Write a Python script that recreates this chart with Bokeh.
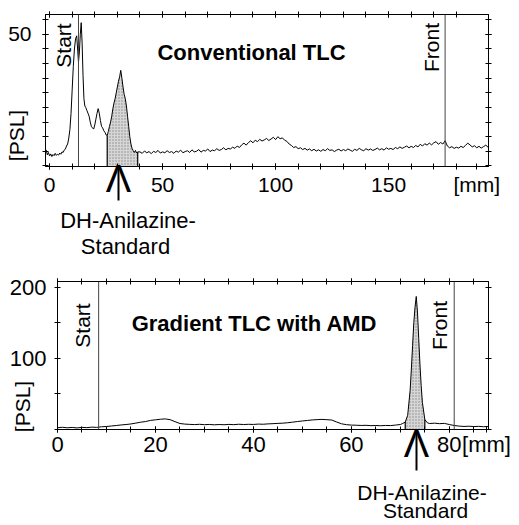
import json
import math
from bokeh.plotting import figure
from bokeh.models import (Range1d, FixedTicker, LinearAxis, Span, Label,
                          CustomJSTickFormatter)
from bokeh.layouts import column
from bokeh.embed import file_html
from bokeh.resources import INLINE

FONT = "Liberation Sans"

# ---------------- data: conventional TLC (top) ----------------
conv_mm_peaks = [-1.5, -1.0, -0.5, 0.0, 0.5, 1.0, 1.5, 2.0, 2.5, 3.0,
                 3.5, 4.0, 4.5, 5.0, 5.5, 6.0, 6.5, 7.0, 7.5, 8.0,
                 8.5, 9.0, 9.5, 10.0, 10.5, 11.0, 11.5, 12.0, 12.5, 12.8,
                 13.2, 13.6, 14.0, 14.4, 14.8, 15.2, 15.6, 16.0, 16.5, 17.0,
                 17.5, 18.0, 18.5, 19.0, 19.5, 20.0, 20.5, 21.0, 21.5, 22.0,
                 22.5, 23.0, 23.5, 24.0, 24.5, 25.0, 25.5, 26.0, 26.5, 27.0,
                 27.5, 28.0, 28.5, 29.0, 29.5, 30.0, 30.5, 31.0, 31.5, 32.0,
                 32.5, 33.0, 33.5, 34.0, 34.5, 35.0, 35.5, 36.0, 36.5, 37.0,
                 37.5, 38.0, 38.5, 39.0]
conv_psl_peaks = [10.5, 8.8, 9.6, 8.4, 9.1, 8.2, 8.9, 8.5, 9.3, 8.6,
                  9.0, 8.7, 9.4, 9.0, 9.8, 9.6, 10.4, 10.8, 11.8, 12.5,
                  14.5, 17.5, 23.0, 31.0, 39.0, 45.0, 48.5, 49.5, 44.0, 40.5,
                  44.0, 50.0, 54.0, 47.0, 36.0, 28.0, 25.5, 25.0, 24.0, 23.0,
                  22.0, 20.0, 18.5, 18.0, 17.6, 19.0, 21.0, 23.0, 24.6, 23.0,
                  20.5, 18.5, 18.0, 17.0, 16.5, 15.6, 15.4, 16.8, 18.5, 20.0,
                  22.0, 24.5, 26.5, 28.0, 30.0, 32.0, 34.0, 35.5, 37.7, 35.0,
                  32.0, 29.5, 28.0, 25.5, 22.0, 18.5, 15.0, 12.5, 11.0, 10.2,
                  9.6, 10.3, 9.4, 9.8]
conv_mm_rest = list(range(40, 195))
conv_psl_rest = [
    9.8, 9.3, 10.1, 9.5, 9.9, 9.2, 10.0, 9.6, 10.3, 9.4, 9.8, 9.5, 10.2, 9.6, 9.9,
    9.3, 10.1, 9.7, 10.4, 9.5, 9.9,
    10.2, 9.6, 10.5, 9.8, 10.0, 10.6, 9.7, 10.3, 10.1, 10.8, 9.9, 10.4, 10.2, 10.9,
    10.3, 10.6, 11.2, 10.5, 11.0, 10.8,
    11.4, 11.0, 11.8, 11.3, 12.2, 12.8, 12.1, 13.0, 13.6, 12.9, 13.8, 13.3, 14.1, 13.5,
    13.9, 14.4, 13.7, 14.2, 14.8, 14.0, 15.0, 14.3, 14.6, 13.8, 13.4, 12.5, 12.0, 11.3,
    11.6, 10.9,
    11.2, 10.6, 11.0, 10.4, 10.8, 10.2, 10.7, 10.1, 10.5, 10.0, 10.6, 10.2, 10.9, 10.3,
    10.5, 9.9, 10.4, 10.7, 10.1, 10.6, 10.2, 10.8, 10.4, 10.0, 10.7, 10.3, 11.0, 10.5,
    10.2, 10.9, 10.4, 10.8, 10.3, 10.6, 11.1, 10.5, 10.9, 10.4, 11.2, 10.7,
    11.0, 10.6, 11.3, 10.9, 11.5, 11.0, 11.4, 11.8, 11.2, 11.7, 11.3, 12.0, 11.5, 12.4,
    11.8, 12.6, 12.1, 12.8, 12.2, 12.9, 13.3, 12.4, 13.0, 12.5, 13.6,
    11.8, 11.2, 11.6, 11.0, 11.4, 11.1, 11.7, 11.3, 12.0, 12.8, 12.2, 11.5, 11.9, 11.2,
    11.7, 11.1, 11.6, 12.1, 11.4]
conv_mm = conv_mm_peaks + conv_mm_rest
conv_psl = conv_psl_peaks + conv_psl_rest
conv_start_mm = 12.8
conv_front_mm = 175.0
conv_std_mm = 30.5
conv_std_band = (25.5, 39.0)
conv_xticks = [0, 50, 100, 150]
conv_xunit_at = 189
conv_xminor = list(range(0, 190, 10))
conv_yticks = [50]
conv_yminor = list(range(5, 60, 5))

# ---------------- data: gradient TLC with AMD (bottom) ----------------
grad_mm = (list(range(0, 71))
           + [70.5, 71.0, 71.5, 72.0, 72.25, 72.5, 72.75, 73.0, 73.25, 73.5,
              73.75, 74.0, 74.25, 74.5, 75.0, 75.5, 76.0]
           + list(range(77, 89)))
grad_psl = [2.5, 3.1, 2.4, 2.9, 2.2, 3.0, 2.6, 3.3, 3.0, 3.8,
            4.2, 4.9, 5.6, 6.4, 7.0, 7.8, 9.0, 10.3, 11.2, 12.8,
            13.6, 14.4, 14.9, 13.8, 11.0, 8.4, 7.6, 7.2, 6.9, 7.3,
            6.8, 7.1, 6.6, 7.0, 6.7, 7.2, 6.8, 7.4, 7.0, 7.3,
            7.1, 7.6, 7.4, 7.9, 8.2, 8.6, 8.9, 9.5, 10.3, 11.2,
            12.0, 12.7, 13.4, 13.9, 14.2, 13.8, 13.3, 10.5, 8.0, 6.8,
            6.2, 6.0, 5.7, 5.9, 5.4, 5.6, 5.3, 5.7, 5.5, 6.2, 7.0,
            8.5, 10.5, 20.0, 55.0, 85.0, 118.0, 150.0, 172.0, 187.0, 165.0,
            128.0, 92.0, 62.0, 38.0, 14.0, 9.5, 8.4,
            8.9, 8.2, 8.6, 7.0, 5.6, 4.8, 4.3, 4.6, 4.1, 4.4, 3.9, 4.2]
grad_start_mm = 8.4
grad_front_mm = 81.0
grad_std_mm = 73.3
grad_std_band = (71.0, 75.0)
grad_xticks = [0, 20, 40, 60, 80]
grad_xunit_at = 87.6
grad_xminor = list(range(0, 90, 5))
grad_yticks = [100, 200]
grad_yminor = [0, 50, 150]

assert len(conv_mm) == len(conv_psl)
assert len(grad_mm) == len(grad_psl)

# ---------------- geometry (page pixels) ----------------
W = 519
X1 = (-1.8, 194.2); Y1 = (4.8, 56.8)
F1 = dict(left=45, right=488, top=14, bottom=166)
X2 = (0.0, 88.0); Y2 = (0.0, 208.0)
F2 = dict(left=57, right=488, top=281, bottom=429)
H1 = 268
H2 = 257


def to_data(xr, yr, f, wx, wy):
    sx = (f["right"] - f["left"]) / (xr[1] - xr[0])
    sy = (f["bottom"] - f["top"]) / (yr[1] - yr[0])
    return xr[0] + (wx - f["left"]) / sx, yr[1] - (wy - f["top"]) / sy


def tick_axis(ticks, minor, show, size, standoff, tick_out=3, unit_at=None):
    ax = LinearAxis(ticker=FixedTicker(ticks=ticks, minor_ticks=minor),
                    axis_line_color="black", axis_line_width=1,
                    major_tick_in=3, major_tick_out=tick_out,
                    minor_tick_in=3, minor_tick_out=tick_out,
                    major_tick_line_color="black", minor_tick_line_color="black",
                    major_label_text_font=FONT, major_label_text_color="black",
                    major_label_text_font_size=size if show else "0px",
                    major_label_standoff=standoff if show else 0)
    if not show:
        ax.formatter = CustomJSTickFormatter(code="return ''")
    elif unit_at is not None:
        ax.formatter = CustomJSTickFormatter(
            code="return Math.abs(tick - %s) < 0.01 ? '[mm]' : tick.toFixed(0)" % unit_at)
    return ax


def text_axis(tick, text, size, standoff, tin=0, tout=0, lw=1, orient=None):
    ax = LinearAxis(ticker=FixedTicker(ticks=[tick]), axis_line_color=None,
                    major_tick_in=tin, major_tick_out=tout, major_tick_line_width=lw,
                    major_tick_line_color="black" if (tin or tout) else None,
                    minor_tick_line_color=None,
                    formatter=CustomJSTickFormatter(code="return %s" % json.dumps(text)),
                    major_label_text_font=FONT, major_label_text_color="black",
                    major_label_text_font_size=size, major_label_standoff=standoff)
    if orient is not None:
        ax.major_label_orientation = orient
    return ax


def make_plot(height, xr, yr, f, top_offset):
    p = figure(width=W, height=height, x_range=Range1d(*xr), y_range=Range1d(*yr),
               output_backend="svg", toolbar_location=None,
               x_axis_location=None, y_axis_location=None,
               min_border_left=f["left"], min_border_right=W - f["right"],
               min_border_top=f["top"] - top_offset,
               min_border_bottom=top_offset + height - f["bottom"])
    p.frame_align = False
    p.grid.visible = False
    p.outline_line_color = "black"
    p.outline_line_width = 1
    p.background_fill_color = "white"
    p.border_fill_color = "white"
    return p


def lbl(p, xy, text, size="21px", bold=False, angle=0.0):
    lab = Label(x=xy[0], y=xy[1], text=text, text_font=FONT, text_font_size=size,
                text_font_style="bold" if bold else "normal", text_color="black",
                text_align="center", text_baseline="middle", angle=angle)
    p.add_layout(lab)
    return lab


def draw_trace(p, mm, psl, yr, start, front, band):
    bx = [x for x in mm if band[0] <= x <= band[1]]
    by = [y for x, y in zip(mm, psl) if band[0] <= x <= band[1]]
    p.varea(x=bx, y1=[yr[0]] * len(bx), y2=by, fill_color="#d6d6d6",
            hatch_pattern="dot", hatch_color="#8a8a8a", hatch_scale=3, hatch_weight=1)
    p.segment(x0=[bx[0], bx[-1]], y0=[yr[0], yr[0]], x1=[bx[0], bx[-1]],
              y1=[by[0], by[-1]], line_color="black", line_width=1.2)
    p.line(mm, psl, line_color="black", line_width=1)
    for loc in (start, front):
        p.add_layout(Span(location=loc, dimension="height", line_color="#444444",
                          line_width=1))


# ---------- top plot ----------
p1 = make_plot(H1, X1, Y1, F1, 0)
draw_trace(p1, conv_mm, conv_psl, Y1, conv_start_mm, conv_front_mm, conv_std_band)
c1 = lambda wx, wy: to_data(X1, Y1, F1, wx, wy)
lbl(p1, c1(251, 52), "Conventional TLC", "22px", bold=True)
lbl(p1, c1(63, 45), "Start", angle=math.pi / 2)
lbl(p1, c1(431, 47), "Front", angle=math.pi / 2)
a1 = tick_axis(conv_xticks + [conv_xunit_at], conv_xminor, True, "21px", 3,
               unit_at=conv_xunit_at)
b1 = text_axis(conv_std_mm, "Λ", "38px", -43, tin=31, tout=2, lw=2)
e1 = text_axis(c1(127.5, 0)[0], "DH-Anilazine-", "22px", 5)
g1 = text_axis(c1(125, 0)[0], "Standard", "22px", -2)
for ax in (a1, b1, e1, g1):
    p1.add_layout(ax, "below")
p1.add_layout(tick_axis(conv_xticks, conv_xminor, False, "21px", 0), "above")
l1 = tick_axis(conv_yticks, conv_yminor, True, "21px", 11, tick_out=3)
k1 = text_axis(c1(0, 135)[1], "[PSL]", "21px", -22, orient="vertical")
p1.add_layout(l1, "left")
p1.add_layout(k1, "left")
p1.add_layout(tick_axis(conv_yticks, conv_yminor, False, "21px", 0), "right")

# ---------- bottom plot ----------
p2 = make_plot(H2, X2, Y2, F2, H1)
draw_trace(p2, grad_mm, grad_psl, Y2, grad_start_mm, grad_front_mm, grad_std_band)
c2 = lambda wx, wy: to_data(X2, Y2, F2, wx, wy)
lbl(p2, c2(254, 323), "Gradient TLC with AMD", "22px", bold=True)
lbl(p2, c2(82, 325), "Start", angle=math.pi / 2)
lbl(p2, c2(439, 325), "Front", angle=math.pi / 2)
a2 = tick_axis(grad_xticks + [grad_xunit_at], grad_xminor, True, "22px", -1,
               unit_at=grad_xunit_at)
b2 = text_axis(grad_std_mm, "Λ", "38px", -48, tin=27, tout=11, lw=2)
e2 = text_axis(c2(421.5, 0)[0], "DH-Anilazine-", "21px", 13)
g2 = text_axis(c2(425, 0)[0], "Standard", "21px", -8)
for ax in (a2, b2, e2, g2):
    p2.add_layout(ax, "below")
p2.add_layout(tick_axis(grad_xticks, grad_xminor, False, "22px", 0), "above")
l2 = tick_axis(grad_yticks, grad_yminor, True, "22px", 8, tick_out=3)
k2 = text_axis(c2(0, 406)[1], "[PSL]", "21px", -27, orient="vertical")
p2.add_layout(l2, "left")
p2.add_layout(k2, "left")
p2.add_layout(tick_axis(grad_yticks, grad_yminor, False, "22px", 0), "right")

layout = column(p1, p2, spacing=0)
open("out.html", "w").write(file_html(layout, INLINE))
